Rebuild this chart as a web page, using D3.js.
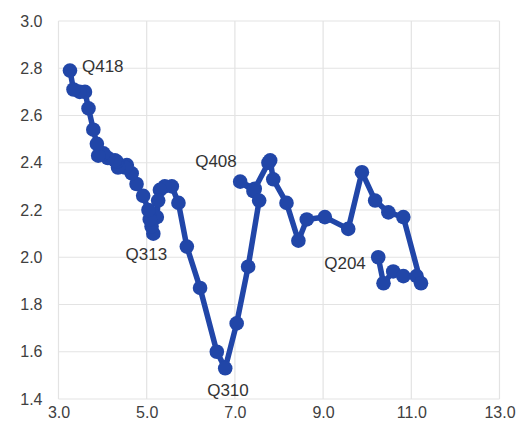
<!DOCTYPE html>
<html>
<head>
<meta charset="utf-8">
<script src="https://cdn.jsdelivr.net/npm/d3@7"></script>
<style>
  html, body { margin: 0; padding: 0; background: #ffffff; }
  svg { display: block; font-family: "Liberation Sans", Arial, sans-serif; }
</style>
</head>
<body>
<svg id="chart" width="521" height="428"></svg>
<script>
// Data (time order, from Q204 to Q418)
const xValues = [10.25, 10.37, 10.59, 10.82, 11.12, 11.22, 10.82, 10.48, 10.18, 9.88,
  9.57, 9.04, 8.63, 8.44, 8.17, 7.87, 7.80, 7.76, 7.45, 7.12,
  7.42, 7.55, 7.30, 7.04, 6.78, 6.59, 6.21, 5.91, 5.72, 5.57,
  5.41, 5.30, 5.26, 5.23, 5.15, 5.11, 5.07, 5.04, 4.92, 4.77,
  4.66, 4.55, 4.51, 4.35, 4.32, 4.28, 4.12, 4.02, 3.90, 3.87,
  3.79, 3.68, 3.60, 3.48, 3.34, 3.26];
const yValues = [2.00, 1.89, 1.94, 1.92, 1.92, 1.89, 2.17, 2.19, 2.24, 2.36,
  2.12, 2.17, 2.16, 2.07, 2.23, 2.33, 2.41, 2.40, 2.29, 2.32,
  2.28, 2.24, 1.96, 1.72, 1.53, 1.60, 1.87, 2.045, 2.23, 2.30,
  2.30, 2.285, 2.24, 2.17, 2.10, 2.13, 2.16, 2.20, 2.26, 2.31,
  2.355, 2.39, 2.38, 2.38, 2.405, 2.41, 2.42, 2.44, 2.43, 2.48,
  2.54, 2.63, 2.70, 2.70, 2.71, 2.79];
const labelNames = ["Q204", "Q408", "Q310", "Q313", "Q418"];
const labelIndex = [0, 19, 24, 35, 55];
const xTicks = [3, 5, 7, 9, 11, 13];
const yTicks = [1.4, 1.6, 1.8, 2.0, 2.2, 2.4, 2.6, 2.8, 3.0];

const points = xValues.map((x, i) => ({ x: x, y: yValues[i] }));

const svg = d3.select("#chart");
const margin = { left: 58.5, right: 21.5, top: 21, bottom: 29 };
const W = 521, H = 428;

const x = d3.scaleLinear().domain([3, 13]).range([margin.left, W - margin.right]);
const y = d3.scaleLinear().domain([1.4, 3.0]).range([H - margin.bottom, margin.top]);

// gridlines
const grid = svg.append("g").attr("class", "grid");
grid.selectAll("line.v").data(xTicks).enter().append("line")
  .attr("x1", d => x(d)).attr("x2", d => x(d))
  .attr("y1", y(1.4)).attr("y2", y(3.0))
  .attr("stroke", "#e3e3e3").attr("stroke-width", 1.2);
grid.selectAll("line.h").data(yTicks).enter().append("line")
  .attr("x1", x(3)).attr("x2", x(13))
  .attr("y1", d => y(d)).attr("y2", d => y(d))
  .attr("stroke", "#e3e3e3").attr("stroke-width", 1.2);

// axes (labels only)
const xAxis = d3.axisBottom(x).tickValues(xTicks).tickFormat(d3.format(".1f")).tickSize(0).tickPadding(8);
const gx = svg.append("g").attr("transform", `translate(0,${y(1.4)})`).call(xAxis);
gx.select(".domain").remove();
gx.selectAll("text").attr("font-size", 16).attr("fill", "#404040")
  .attr("font-family", "Liberation Sans, Arial, sans-serif");

const yAxis = d3.axisLeft(y).tickValues(yTicks).tickFormat(d3.format(".1f")).tickSize(0).tickPadding(16);
const gy = svg.append("g").attr("transform", `translate(${x(3)},0)`).call(yAxis);
gy.select(".domain").remove();
gy.selectAll("text").attr("font-size", 16).attr("fill", "#404040")
  .attr("font-family", "Liberation Sans, Arial, sans-serif");

// line
const color = "#2146a8";
const line = d3.line().x(d => x(d.x)).y(d => y(d.y));
svg.append("path").datum(points)
  .attr("d", line).attr("fill", "none")
  .attr("stroke", color).attr("stroke-width", 5.5)
  .attr("stroke-linejoin", "round");

svg.append("g").selectAll("circle").data(points).enter().append("circle")
  .attr("cx", d => x(d.x)).attr("cy", d => y(d.y)).attr("r", 7.3)
  .attr("fill", color);

// labels
const labelOffsets = { "Q204": [-54, 12], "Q408": [-45, -15], "Q310": [-18, 28], "Q313": [-26, 33], "Q418": [12, 1] };
svg.append("g").selectAll("text").data(labelNames).enter().append("text")
  .attr("x", (d, i) => x(points[labelIndex[i]].x) + labelOffsets[d][0])
  .attr("y", (d, i) => y(points[labelIndex[i]].y) + labelOffsets[d][1])
  .attr("font-size", 17).attr("fill", "#333333")
  .text(d => d);
</script>
</body>
</html>
